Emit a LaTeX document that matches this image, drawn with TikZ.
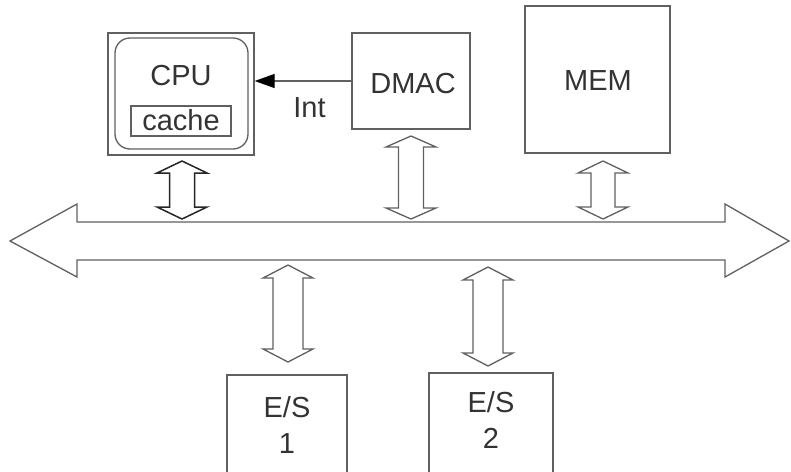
\documentclass[tikz,border=0pt]{standalone}
\usepackage{fontspec}
\setmainfont{Liberation Sans}
\usetikzlibrary{arrows.meta}
\definecolor{ln}{HTML}{606060}
\definecolor{tx}{HTML}{333333}
\tikzset{
  box/.style={draw=ln, line width=1.3pt, inner sep=0pt},
  txt/.style={text=tx, font=\fontsize{29}{36}\selectfont, inner sep=0pt, anchor=base},
  arr/.style={draw=ln, line width=1.3pt, line join=miter, fill=white},
  darkarr/.style={draw=black!85, line width=1.5pt, line join=miter, fill=white},
}
\newcommand\busarr[6]{% style, x, ytop, ybot, shaft half, head length
  \draw[#1] (#2,#3) -- (#2+25,#3+#6) -- (#2+#5,#3+#6) -- (#2+#5,#4-#6) -- (#2+25,#4-#6)
    -- (#2,#4) -- (#2-25,#4-#6) -- (#2-#5,#4-#6) -- (#2-#5,#3+#6) -- (#2-25,#3+#6) -- cycle;}
\begin{document}
\begin{tikzpicture}[x=1pt,y=-1pt]
\useasboundingbox (0,0) rectangle (791,471);
\clip (0,0) rectangle (791,471);
% bus
\draw[arr] (10,241) -- (77,204) -- (77,222) -- (725,222) -- (725,204) -- (789,241)
  -- (725,277) -- (725,260) -- (77,260) -- (77,277) -- cycle;
\coordinate (busL) at (10,241);
\coordinate (busR) at (789,241);
% CPU
\node[box, minimum width=146pt, minimum height=122pt] (cpu) at (181,94) {};
\draw[ln, line width=1.3pt, rounded corners=15pt] (115,38) rectangle (248,149);
\node[txt] (cputxt) at (181,85) {CPU};
\node[box, minimum width=100pt, minimum height=30pt] (cache) at (181,121) {};
\node[txt] (cachetxt) at (181,130) {cache};
% DMAC
\node[box, minimum width=118pt, minimum height=96pt] (dmac) at (411,81) {};
\node[txt] (dmactxt) at (413,93) {DMAC};
% MEM
\node[box, minimum width=145pt, minimum height=147pt] (mem) at (597.5,79.5) {};
\node[txt] (memtxt) at (598,90) {MEM};
% E/S
\node[box, minimum width=120pt, minimum height=110pt] (es1) at (287,430) {};
\node[txt] (es1a) at (287,417) {E/S};
\node[txt] (es1b) at (287,453) {1};
\node[box, minimum width=124pt, minimum height=112pt] (es2) at (491,429) {};
\node[txt] (es2a) at (491,412) {E/S};
\node[txt] (es2b) at (491,448) {2};
% interrupt
\draw[ln, line width=1.3pt, -{Triangle[length=20pt,width=14pt,fill=black,black]}]
  (dmac.west |- 0,81) -- (cpu.east |- 0,81);
\node[txt] (inttxt) at (309.5,117) {Int};
% bus connectors
\busarr{darkarr}{182}{161}{219}{12.5}{12}
\busarr{arr}{411}{136}{219}{12.5}{11}
\busarr{arr}{603}{161}{219}{12}{12}
\busarr{arr}{288}{265}{362}{15}{13}
\busarr{arr}{488}{267}{366}{15}{13}
\end{tikzpicture}
\end{document}
